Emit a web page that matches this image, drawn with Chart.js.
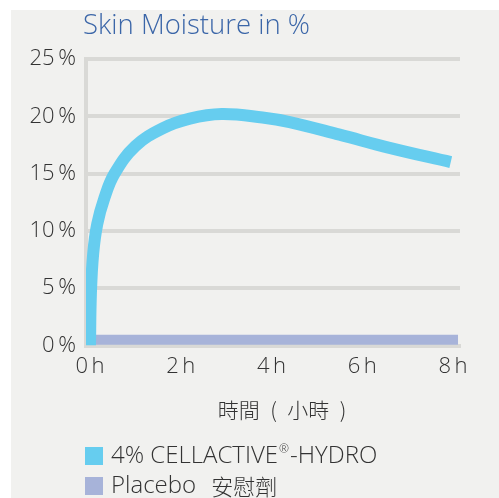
<!DOCTYPE html>
<html><head><meta charset="utf-8">
<script src="https://cdn.jsdelivr.net/npm/chart.js@4/dist/chart.umd.min.js"></script>
<style>html,body{margin:0;padding:0;background:#fff}#wrap{width:499px;height:498px}</style>
</head><body><div id="wrap"><canvas id="c" width="499" height="498"></canvas></div>
<script>
const chartTitle = 'Skin Moisture in %';
const xAxisTitle = '時間\u2002(\u2002小時\u2002)';
const seriesNames = ['4% CELLACTIVE®-HYDRO', 'Placebo'];
const seriesNamesZh = ['', '安慰劑'];
const xTickHours = [0, 2, 4, 6, 8];
const yTickValues = [0, 5, 10, 15, 20, 25];
const cellactiveHours  = [0, 0.02, 0.07, 0.16, 0.32, 0.54, 1.0, 1.6, 2.2, 2.9, 3.8, 4.4, 5.5, 6.6, 7.95];
const cellactiveValues = [0, 4.5, 8.0, 10.6, 12.9, 15.0, 17.4, 18.95, 19.8, 20.2, 19.9, 19.5, 18.4, 17.25, 16.0];
const placeboHours  = [0, 8];
const placeboValues = [0.5, 0.5];

const COL_CYAN = '#66cdef';
const COL_LAV = '#a7b3d9';
const COL_GRID = '#d9d9d6';
const COL_TEXT = '#333333';
const COL_TITLE = '#3b66a8';
const FONT = '"Open Sans", "Noto Sans", sans-serif';
const FONT_CJK = '"Noto Sans CJK TC", "Open Sans", sans-serif';

const toPts = (xs, ys) => xs.map((x, i) => ({x, y: ys[i]}));

function drawWithSup(ctx, text, x, y, size) {
  const parts = text.split('®');
  let cx = x;
  parts.forEach((p, i) => {
    ctx.font = '300 ' + size + 'px ' + FONT;
    ctx.fillText(p, cx, y);
    cx += ctx.measureText(p).width;
    if (i < parts.length - 1) {
      ctx.font = '300 ' + Math.round(size * 0.5) + 'px ' + FONT;
      ctx.fillText('®', cx + 1, y - size * 0.28);
      cx += ctx.measureText('®').width + 2;
    }
  });
  return cx;
}

const deco = {
  id: 'deco',
  beforeDraw(chart) {
    const ctx = chart.ctx;
    ctx.save();
    ctx.fillStyle = '#ffffff';
    ctx.fillRect(0, 0, chart.width, chart.height);
    ctx.fillStyle = '#f1f1ef';
    ctx.fillRect(11, 10, chart.width - 11, chart.height - 10);
    ctx.restore();
  },
  afterDraw(chart) {
    const ctx = chart.ctx;
    ctx.save();
    ctx.textBaseline = 'middle';
    ctx.fillStyle = COL_TITLE;
    ctx.font = '300 27.5px ' + FONT;
    ctx.textAlign = 'left';
    ctx.fillText(chartTitle, 83, 26);
    ctx.fillStyle = COL_TEXT;
    ctx.font = '300 21px ' + FONT_CJK;
    ctx.textAlign = 'center';
    ctx.fillText(xAxisTitle, 282, 410);
    const cols = [COL_CYAN, COL_LAV];
    const ys = [456, 486];
    ctx.textAlign = 'left';
    seriesNames.forEach((name, i) => {
      ctx.fillStyle = cols[i];
      ctx.fillRect(85, ys[i] - 9, 18, 18);
      ctx.fillStyle = COL_TEXT;
      const end = drawWithSup(ctx, name, 111, ys[i], 24);
      if (seriesNamesZh[i]) {
        ctx.font = '300 22px ' + FONT_CJK;
        ctx.fillText(seriesNamesZh[i], end + 15, ys[i] + 1);
      }
    });
    ctx.restore();
  }
};

new Chart(document.getElementById('c'), {
  type: 'line',
  data: {
    datasets: [
      {
        label: seriesNames[0],
        data: toPts(cellactiveHours, cellactiveValues),
        borderColor: COL_CYAN,
        borderWidth: 12,
        tension: 0.4,
        pointRadius: 0,
        borderCapStyle: 'butt',
        borderJoinStyle: 'round',
        fill: false
      },
      {
        label: seriesNames[1] + ' ' + seriesNamesZh[1],
        data: toPts(placeboHours, placeboValues),
        borderColor: COL_LAV,
        borderWidth: 10,
        pointRadius: 0,
        borderCapStyle: 'square',
        fill: false
      }
    ]
  },
  options: {
    responsive: false,
    devicePixelRatio: 1,
    animation: false,
    layout: { padding: { top: 59, right: 39, left: 0, bottom: 0 } },
    plugins: { legend: { display: false }, title: { display: false }, tooltip: { enabled: false } },
    scales: {
      x: {
        type: 'linear',
        min: -0.088,
        max: 8.154,
        afterBuildTicks(s) { s.ticks = xTickHours.map(v => ({value: v})); },
        afterFit(s) { s.height = 152.5; },
        grid: { display: false, drawTicks: false },
        border: { display: true, color: COL_GRID, width: 4 },
        ticks: {
          padding: 8,
          maxRotation: 0,
          color: COL_TEXT,
          font: { family: FONT, size: 22, weight: 300 },
          callback: v => v + '\u2009h'
        }
      },
      y: {
        min: 0,
        max: 25,
        afterBuildTicks(s) { s.ticks = yTickValues.map(v => ({value: v})); },
        afterFit(s) { s.width = 86; },
        grid: { color: COL_GRID, lineWidth: 4, drawTicks: false },
        border: { display: true, color: COL_GRID, width: 4 },
        ticks: {
          padding: 10,
          color: COL_TEXT,
          font: { family: FONT, size: 22, weight: 300 },
          callback: v => v + '\u2009%'
        }
      }
    }
  },
  plugins: [deco]
});
</script>
</body></html>
